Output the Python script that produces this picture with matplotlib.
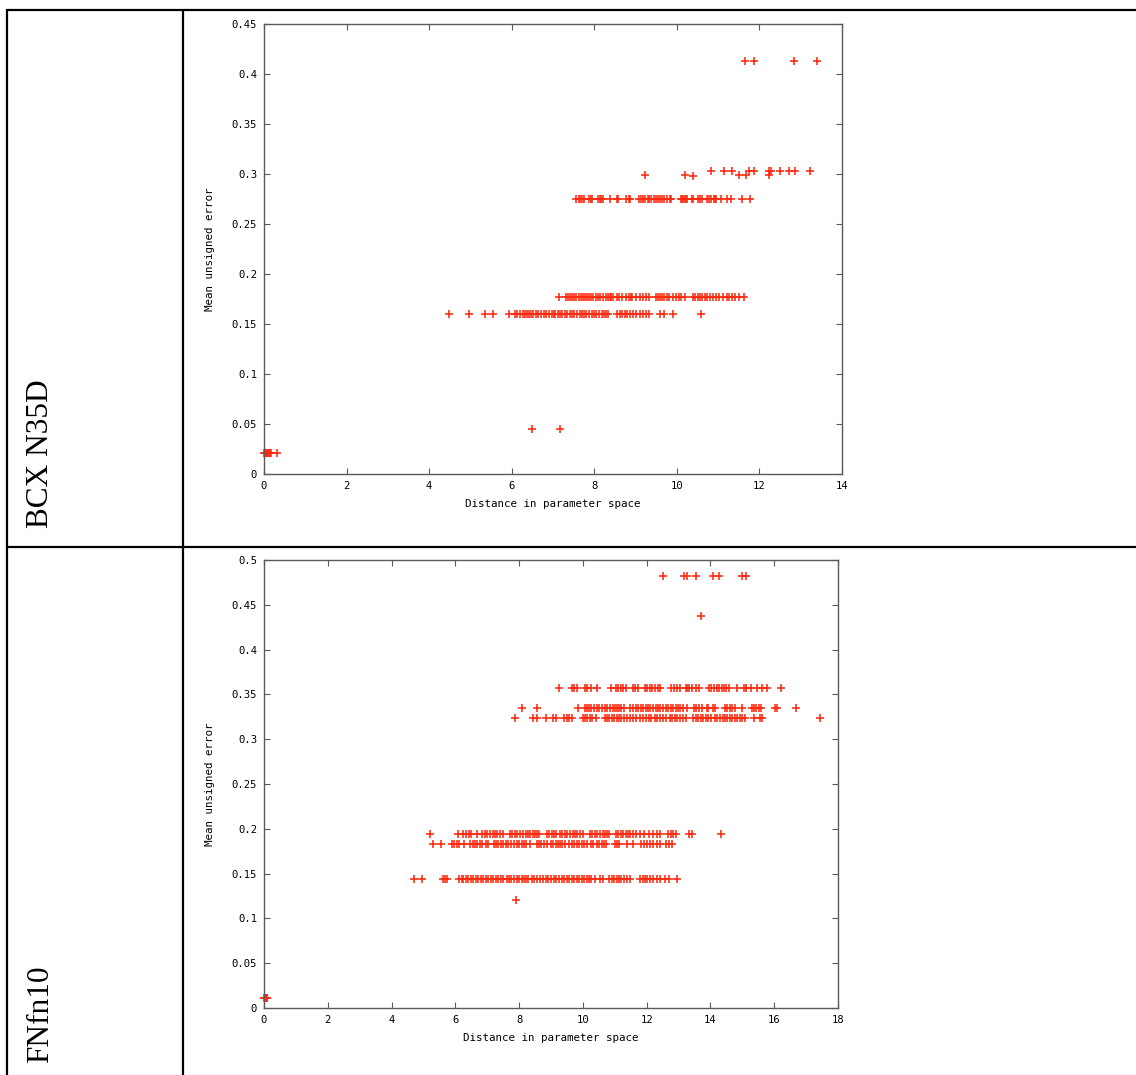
import matplotlib
matplotlib.use("Agg")
import matplotlib.pyplot as plt
from matplotlib.lines import Line2D
from matplotlib.ticker import FuncFormatter, MultipleLocator

W, H, DPI = 1136, 1075, 100

# ---------------- BCX N35D ----------------
bcx_y_0022 = 0.021
bcx_x_0022 = [0.0, 0.02, 0.04, 0.06, 0.08, 0.10, 0.12, 0.14, 0.16, 0.32]

bcx_y_0046 = 0.045
bcx_x_0046 = [6.49, 7.17]

bcx_y_0160 = 0.160
bcx_x_0160 = [4.49, 4.97, 5.35, 5.54, 5.93, 6.08, 6.14, 6.21, 6.27, 6.32, 6.37,
              6.42, 6.46, 6.51, 6.58, 6.64, 6.71, 6.77, 6.84, 6.90, 6.97, 7.015,
              7.06, 7.13, 7.18, 7.225, 7.29, 7.35, 7.40, 7.45, 7.52, 7.58, 7.645,
              7.695, 7.74, 7.81, 7.87, 7.94, 8.00, 8.05, 8.115, 8.18, 8.245, 8.29,
              8.34, 8.56, 8.62, 8.665, 8.74, 8.795, 8.86, 8.94, 9.02, 9.10, 9.18,
              9.26, 9.32, 9.59, 9.69, 9.91, 10.59]

bcx_y_0177 = 0.1773
bcx_x_0177 = [7.136, 7.32, 7.37, 7.42, 7.47, 7.52, 7.565, 7.62, 7.69, 7.73, 7.775,
              7.82, 7.87, 7.92, 7.97, 8.03, 8.09, 8.15, 8.21, 8.29, 8.33, 8.37,
              8.41, 8.455, 8.54, 8.60, 8.66, 8.78, 8.84, 8.88, 8.92, 9.02, 9.10,
              9.18, 9.25, 9.33, 9.49, 9.54, 9.59, 9.65, 9.70, 9.75, 9.81, 9.91,
              9.975, 10.06, 10.11, 10.19, 10.40, 10.45, 10.51, 10.56, 10.62, 10.68,
              10.74, 10.80, 10.87, 10.94, 11.01, 11.11, 11.21, 11.27, 11.335, 11.41,
              11.51, 11.635]

bcx_y_0275 = 0.275
bcx_x_0275 = [7.565, 7.62, 7.66, 7.70, 7.75, 7.87, 7.91, 7.95, 8.09, 8.13, 8.17,
              8.21, 8.39, 8.54, 8.58, 8.78, 8.83, 8.86, 9.09, 9.13, 9.18, 9.23,
              9.29, 9.33, 9.38, 9.44, 9.49, 9.54, 9.59, 9.64, 9.69, 9.75, 9.83,
              9.87, 10.09, 10.12, 10.15, 10.19, 10.22, 10.25, 10.36, 10.40, 10.52,
              10.56, 10.60, 10.72, 10.77, 10.82, 10.90, 10.93, 10.96, 11.08, 11.21,
              11.31, 11.57, 11.76]

bcx_y_0299 = [0.2993, 0.2993, 0.298, 0.2993, 0.2993, 0.2985]
bcx_x_0299 = [9.23, 10.19, 10.39, 11.50, 11.67, 12.24]

bcx_y_0303 = 0.3033
bcx_x_0303 = [10.82, 11.14, 11.33, 11.75, 11.87, 12.24, 12.29, 12.50, 12.71,
              12.86, 13.23]

bcx_y_0413 = 0.4133
bcx_x_0413 = [11.65, 11.86, 12.84, 13.39]

# ---------------- FNfn10 ----------------
fn_y_0012 = 0.0115
fn_x_0012 = [0.0, 0.02, 0.04, 0.06, 0.08, 0.10]

fn_y_0120 = 0.1202
fn_x_0120 = [7.89]

fn_y_0144 = 0.1443
fn_x_0144 = [4.69, 4.97, 5.60, 5.67, 5.75, 6.12, 6.20, 6.25, 6.33, 6.405, 6.48,
             6.56, 6.645, 6.72, 6.79, 6.875, 6.96, 7.03, 7.105, 7.19, 7.27, 7.35,
             7.42, 7.50, 7.61, 7.69, 7.76, 7.84, 7.92, 8.00, 8.08, 8.15, 8.21,
             8.29, 8.39, 8.46, 8.57, 8.65, 8.735, 8.84, 8.91, 8.99, 9.09, 9.17,
             9.26, 9.33, 9.40, 9.49, 9.57, 9.645, 9.72, 9.80, 9.885, 9.96, 10.03,
             10.115, 10.20, 10.27, 10.38, 10.53, 10.62, 10.825, 10.90, 10.97,
             11.055, 11.14, 11.21, 11.285, 11.37, 11.49, 11.79, 11.87, 11.94,
             12.02, 12.12, 12.20, 12.33, 12.41, 12.57, 12.71, 12.94]

fn_y_0182 = 0.1827
fn_x_0182 = [5.31, 5.54, 5.88, 5.96, 6.04, 6.12, 6.27, 6.46, 6.54, 6.61, 6.69,
             6.77, 6.85, 6.96, 7.03, 7.21, 7.27, 7.35, 7.42, 7.50, 7.59, 7.66,
             7.76, 7.84, 7.92, 8.00, 8.08, 8.15, 8.23, 8.34, 8.57, 8.63, 8.70,
             8.78, 8.86, 8.99, 9.07, 9.15, 9.23, 9.28, 9.36, 9.435, 9.57, 9.645,
             9.72, 9.80, 9.885, 9.96, 10.03, 10.115, 10.24, 10.32, 10.43, 10.51,
             10.585, 10.66, 10.74, 11.00, 11.08, 11.14, 11.37, 11.58, 11.81, 11.91,
             11.995, 12.10, 12.20, 12.33, 12.41, 12.62, 12.71, 12.81]

fn_y_0194 = 0.1942
fn_x_0194 = [5.20, 6.07, 6.25, 6.33, 6.415, 6.48, 6.67, 6.85, 6.93, 7.00, 7.08,
             7.17, 7.24, 7.31, 7.40, 7.48, 7.71, 7.79, 7.87, 7.94, 8.025, 8.11,
             8.23, 8.29, 8.34, 8.42, 8.495, 8.57, 8.63, 8.86, 8.94, 9.02, 9.09,
             9.17, 9.28, 9.36, 9.435, 9.51, 9.59, 9.68, 9.75, 9.82, 9.905, 10.01,
             10.22, 10.30, 10.38, 10.45, 10.53, 10.62, 10.69, 10.76, 10.825, 11.03,
             11.11, 11.18, 11.26, 11.35, 11.42, 11.49, 11.58, 11.66, 11.79, 11.91,
             12.08, 12.20, 12.33, 12.41, 12.675, 12.75, 12.83, 12.915, 13.33,
             13.41, 14.32]

fn_y_0322 = 0.3233
fn_x_0322 = [7.87, 8.44, 8.55, 8.84, 9.07, 9.15, 9.40, 9.49, 9.57, 9.655, 9.99,
             10.06, 10.135, 10.22, 10.30, 10.41, 10.70, 10.76, 10.825, 10.90,
             10.97, 11.055, 11.14, 11.21, 11.285, 11.37, 11.47, 11.58, 11.68,
             11.79, 11.87, 11.97, 12.08, 12.15, 12.26, 12.33, 12.41, 12.52, 12.62,
             12.73, 12.81, 12.88, 12.96, 13.04, 13.145, 13.23, 13.46, 13.54,
             13.615, 13.70, 13.77, 13.855, 13.93, 14.03, 14.14, 14.21, 14.29,
             14.38, 14.45, 14.52, 14.61, 14.69, 14.76, 14.84, 14.92, 15.00, 15.08,
             15.36, 15.55, 15.63, 17.43]

fn_y_0335 = 0.3348
fn_x_0335 = [8.10, 8.55, 9.85, 10.06, 10.115, 10.20, 10.27, 10.345, 10.43, 10.51,
             10.585, 10.69, 10.76, 10.85, 10.93, 11.00, 11.08, 11.14, 11.21,
             11.285, 11.49, 11.58, 11.66, 11.73, 11.81, 11.89, 11.97, 12.05,
             12.12, 12.20, 12.29, 12.36, 12.43, 12.52, 12.60, 12.67, 12.75, 12.83,
             12.915, 12.99, 13.06, 13.145, 13.25, 13.48, 13.56, 13.65, 13.72,
             13.88, 13.93, 14.09, 14.14, 14.45, 14.52, 14.61, 14.68, 14.76, 15.00,
             15.29, 15.36, 15.44, 15.53, 15.60, 16.02, 16.09, 16.68]

fn_y_0357 = 0.3568
fn_x_0357 = [9.26, 9.645, 9.72, 9.80, 10.06, 10.135, 10.24, 10.43, 10.87, 11.03,
             11.11, 11.18, 11.26, 11.35, 11.56, 11.63, 11.73, 11.94, 12.02, 12.10,
             12.18, 12.26, 12.35, 12.43, 12.75, 12.85, 12.96, 13.06, 13.23, 13.27,
             13.33, 13.41, 13.56, 13.65, 13.96, 14.03, 14.11, 14.19, 14.26, 14.35,
             14.42, 14.50, 14.59, 14.84, 15.05, 15.13, 15.26, 15.46, 15.63, 15.78,
             16.20]

fn_y_0437 = 0.4375
fn_x_0437 = [13.71]

fn_y_0482 = 0.4818
fn_x_0482 = [12.51, 13.18, 13.27, 13.55, 14.09, 14.28, 14.99, 15.10]

row_labels = ["BCX N35D", "FNfn10"]
x_label = "Distance in parameter space"
y_label = "Mean unsigned error"

MARK = "#ff2a10"
AXC = "#5a5a5a"
MONO = "DejaVu Sans Mono"


def px_rect(left, top, right, bottom):
    return [left / W, 1 - bottom / H, (right - left) / W, (bottom - top) / H]


def fmt(v, _pos):
    return f"{round(v, 4):g}"


def style_axes(ax, xmax, xstep, ymax):
    ax.set_xlim(0, xmax)
    ax.set_ylim(0, ymax)
    ax.xaxis.set_major_locator(MultipleLocator(xstep))
    ax.yaxis.set_major_locator(MultipleLocator(0.05))
    ax.xaxis.set_major_formatter(FuncFormatter(fmt))
    ax.yaxis.set_major_formatter(FuncFormatter(fmt))
    ax.tick_params(direction="in", length=4.5, width=0.8, color=AXC,
                   top=True, right=True, labelsize=7.6, pad=5)
    for lab in ax.get_xticklabels() + ax.get_yticklabels():
        lab.set_fontfamily(MONO)
    for s in ax.spines.values():
        s.set_color(AXC)
        s.set_linewidth(1.0)
    ax.set_xlabel(x_label, fontsize=7.8, family=MONO, labelpad=6)
    ax.set_ylabel(y_label, fontsize=7.8, family=MONO, labelpad=12)


def scatter_level(ax, xs, y):
    ys = y if isinstance(y, list) else [y] * len(xs)
    ax.plot(xs, ys, linestyle="none", marker="+", markersize=5.2,
            markeredgewidth=1.15, color=MARK, clip_on=False)


fig = plt.figure(figsize=(W / DPI, H / DPI), dpi=DPI)

ax1 = fig.add_axes(px_rect(264, 24, 842, 474))
for xs, y in [(bcx_x_0022, bcx_y_0022), (bcx_x_0046, bcx_y_0046),
              (bcx_x_0160, bcx_y_0160), (bcx_x_0177, bcx_y_0177),
              (bcx_x_0275, bcx_y_0275), (bcx_x_0299, bcx_y_0299),
              (bcx_x_0303, bcx_y_0303), (bcx_x_0413, bcx_y_0413)]:
    scatter_level(ax1, xs, y)
style_axes(ax1, 14, 2, 0.45)

ax2 = fig.add_axes(px_rect(264, 560, 838, 1008))
for xs, y in [(fn_x_0012, fn_y_0012), (fn_x_0120, fn_y_0120),
              (fn_x_0144, fn_y_0144), (fn_x_0182, fn_y_0182),
              (fn_x_0194, fn_y_0194), (fn_x_0322, fn_y_0322),
              (fn_x_0335, fn_y_0335), (fn_x_0357, fn_y_0357),
              (fn_x_0437, fn_y_0437), (fn_x_0482, fn_y_0482)]:
    scatter_level(ax2, xs, y)
style_axes(ax2, 18, 2, 0.5)

# Table rules around the two rows
def rule(x0, y0, x1, y1):
    fig.add_artist(Line2D([x0 / W, x1 / W], [1 - y0 / H, 1 - y1 / H],
                          color="black", linewidth=1.6,
                          solid_capstyle="butt"))

rule(7, 10, W, 10)
rule(7, 547, W, 547)
rule(7, 9, 7, H)
rule(183, 9, 183, H)

# Row captions, rotated and aligned to the bottom of each cell
for label, bottom in zip(row_labels, [528, 1063]):
    fig.text(41 / W, 1 - bottom / H, label, rotation=90, ha="center",
             va="bottom", family="Liberation Serif", fontsize=22.5)

fig.savefig("out.png", dpi=DPI)
